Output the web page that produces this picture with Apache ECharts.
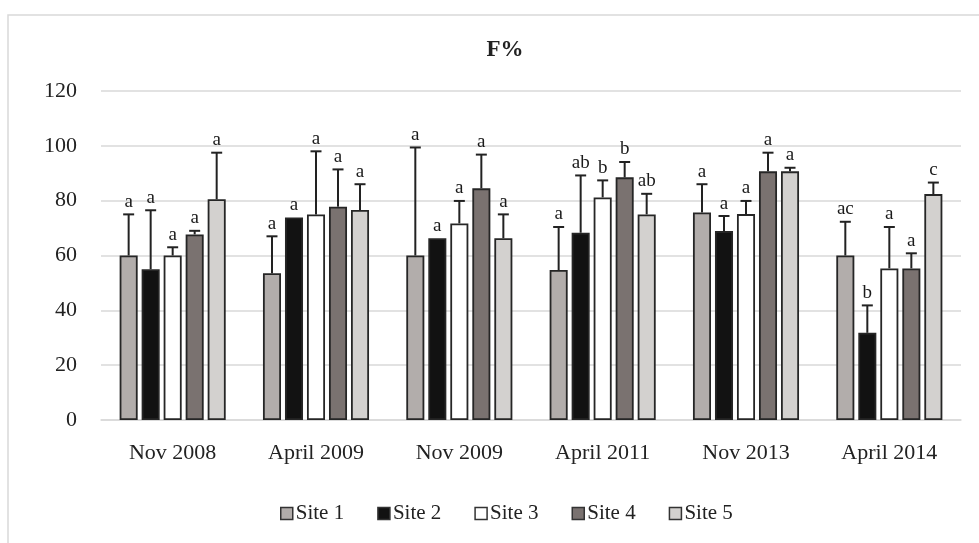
<!DOCTYPE html>
<html>
<head>
<meta charset="utf-8">
<script src="https://cdn.jsdelivr.net/npm/echarts@6/dist/echarts.min.js"></script>
<style>html,body{margin:0;padding:0;background:#fff}#c{width:979px;height:543px}</style>
</head>
<body>
<div id="c"></div>
<script>
const categories = ['Nov 2008', 'April 2009', 'Nov 2009', 'April 2011', 'Nov 2013', 'April 2014'];
const siteNames = ['Site 1', 'Site 2', 'Site 3', 'Site 4', 'Site 5'];
const site1 = [60, 53.5, 60, 54.7, 75.7, 60];
const site2 = [55, 73.9, 66.3, 68.3, 68.9, 31.8];
const site3 = [60, 75, 71.7, 81.2, 75.1, 55.3];
const site4 = [67.7, 77.8, 84.5, 88.5, 90.7, 55.3];
const site5 = [80.5, 76.6, 66.3, 75, 90.7, 82.4];
// upper end of error bars
const err1 = [75, 67, 99.4, 70.4, 86, 72.3];
const err2 = [76.5, 73.9, 66.3, 89.2, 74.4, 41.8];
const err3 = [63, 98, 79.9, 87.4, 79.9, 70.4];
const err4 = [69, 91.4, 96.8, 94.1, 97.5, 60.8];
const err5 = [97.5, 86, 75, 82.5, 92, 86.6];
// significance letters
const let1 = ['a', 'a', 'a', 'a', 'a', 'ac'];
const let2 = ['a', 'a', 'a', 'ab', 'a', 'b'];
const let3 = ['a', 'a', 'a', 'b', 'a', 'a'];
const let4 = ['a', 'a', 'a', 'b', 'a', 'a'];
const let5 = ['a', 'a', 'a', 'ab', 'a', 'c'];
const yTicks = [0, 20, 40, 60, 80, 100, 120];

const values = [site1, site2, site3, site4, site5];
const errs = [err1, err2, err3, err4, err5];
const letters = [let1, let2, let3, let4, let5];
const colors = ['#b2adab', '#121212', '#ffffff', '#7a7270', '#d3d1cf'];
const CAT_GAP = 0.26, BAR_GAP = 0.22, N = 5;
const FONT = '"Liberation Serif", "Times New Roman", serif';

const series = [];
for (let i = 0; i < N; i++) {
  series.push({
    name: siteNames[i], type: 'bar', data: values[i],
    barCategoryGap: '26%', barGap: '22%',
    itemStyle: { color: colors[i], borderColor: '#262626', borderWidth: 1.8 },
    z: 2
  });
}
for (let i = 0; i < N; i++) {
  series.push({
    type: 'custom', silent: true, z: 5,
    data: categories.map((c, k) => [k, values[i][k], errs[i][k], letters[i][k]]),
    encode: { x: 0, y: [1, 2] },
    renderItem: function (params, api) {
      const k = api.value(0);
      const W = api.size([1, 0])[0];
      const b = (W - W * CAT_GAP) / (N + (N - 1) * BAR_GAP);
      const total = N * b + (N - 1) * BAR_GAP * b;
      const center = api.coord([k, 0])[0];
      const x = center - total / 2 + i * b * (1 + BAR_GAP) + b / 2;
      const yv = api.coord([k, api.value(1)])[1];
      const ye = api.coord([k, api.value(2)])[1];
      const cap = 5.5;
      const children = [];
      if (ye < yv - 0.5) {
        children.push({ type: 'line', shape: { x1: x, y1: yv, x2: x, y2: ye }, style: { stroke: '#222', lineWidth: 2 } });
        children.push({ type: 'line', shape: { x1: x - cap, y1: ye, x2: x + cap, y2: ye }, style: { stroke: '#222', lineWidth: 2 } });
      }
      children.push({ type: 'text', style: { text: api.value(3), x: x, y: ye - 3, align: 'center', verticalAlign: 'bottom', font: '19px ' + FONT, fill: '#1a1a1a' } });
      return { type: 'group', children: children };
    }
  });
}

const chart = echarts.init(document.getElementById('c'));
chart.setOption({
  animation: false,
  backgroundColor: '#fff',
  graphic: [{ type: 'rect', shape: { x: 8, y: 15, width: 990, height: 560 }, style: { fill: 'none', stroke: '#d9d9d9', lineWidth: 1.5 }, silent: true }],
  title: { text: 'F%', left: 500, textAlign: 'center', top: 34, textStyle: { fontFamily: FONT, fontSize: 23, fontWeight: 'bold', color: '#222' } },
  legend: {
    bottom: 14, left: 275, itemWidth: 12, itemHeight: 12, itemGap: 33,
    textStyle: { fontFamily: FONT, fontSize: 21, color: '#222', padding: [0, 0, 0, -2] },
    data: siteNames.map((n, i) => ({ name: n, icon: 'rect', itemStyle: { color: colors[i], borderColor: '#333', borderWidth: 1.5 } }))
  },
  grid: { left: 101, right: 18, top: 91, bottom: 123, containLabel: false },
  xAxis: {
    type: 'category', data: categories,
    axisLine: { lineStyle: { color: '#d9d9d9', width: 1.5 } },
    axisTick: { show: false },
    axisLabel: { fontFamily: FONT, fontSize: 22, color: '#222', margin: 22 }
  },
  yAxis: {
    type: 'value', min: 0, max: 120, interval: 20,
    axisLine: { show: false }, axisTick: { show: false },
    splitLine: { lineStyle: { color: '#d9d9d9', width: 1.5 } },
    axisLabel: { fontFamily: FONT, fontSize: 22, color: '#222', margin: 24,
      formatter: v => yTicks.includes(v) ? String(v) : '' }
  },
  series: series
});
</script>
</body>
</html>
